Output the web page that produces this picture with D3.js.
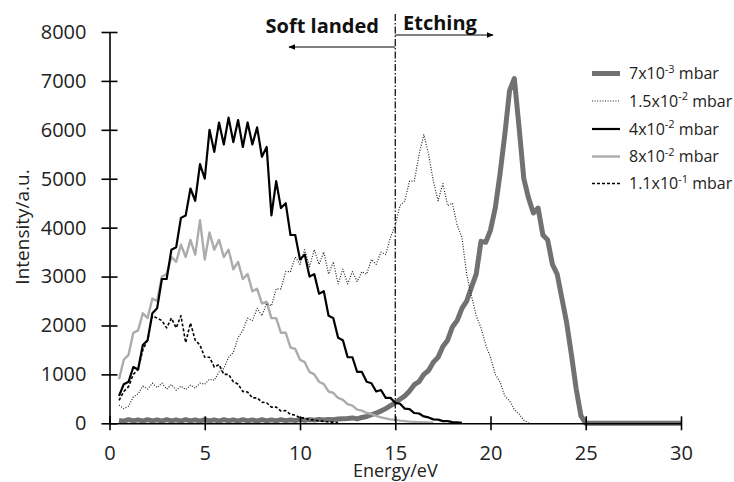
<!DOCTYPE html>
<html>
<head>
<meta charset="utf-8">
<script src="https://cdn.jsdelivr.net/npm/d3@7"></script>
<style>
  body { margin: 0; background: #fff; }
  svg { display: block; font-family: "Open Sans", "DejaVu Sans", sans-serif; }
</style>
</head>
<body>
<svg id="chart" width="734" height="482"></svg>
<script>
// Energy grid (eV), 0.25 steps from 0.5 to 25, plus 30
const energy = [
  0.5, 0.75,
  1.0, 1.25, 1.5, 1.75, 2.0, 2.25, 2.5, 2.75, 3.0, 3.25, 3.5, 3.75,
  4.0, 4.25, 4.5, 4.75, 5.0, 5.25, 5.5, 5.75, 6.0, 6.25, 6.5, 6.75,
  7.0, 7.25, 7.5, 7.75, 8.0, 8.25, 8.5, 8.75, 9.0, 9.25, 9.5, 9.75,
  10.0, 10.25, 10.5, 10.75, 11.0, 11.25, 11.5, 11.75, 12.0, 12.25, 12.5, 12.75,
  13.0, 13.25, 13.5, 13.75, 14.0, 14.25, 14.5, 14.75, 15.0, 15.25, 15.5, 15.75,
  16.0, 16.25, 16.5, 16.75, 17.0, 17.25, 17.5, 17.75, 18.0, 18.25, 18.5, 18.75,
  19.0, 19.25, 19.5, 19.75, 20.0, 20.25, 20.5, 20.75, 21.0, 21.25, 21.5, 21.75,
  22.0, 22.25, 22.5, 22.75, 23.0, 23.25, 23.5, 23.75, 24.0, 24.25, 24.5, 24.75,
  25.0, 30.0
];

// 7x10^-3 mbar
const p7e3 = [
  60, 45,
  75, 50, 70, 45, 75, 50, 70, 45, 75, 50, 70, 45,
  75, 50, 70, 45, 75, 50, 70, 45, 75, 50, 70, 45,
  75, 50, 70, 45, 75, 50, 70, 50, 75, 55, 70, 55,
  80, 60, 75, 65, 80, 70, 80, 75, 90, 95, 100, 110,
  90, 120, 140, 175, 210, 250, 300, 360, 420, 490, 560, 660,
  790, 850, 1000, 1080, 1250, 1350, 1570, 1700, 1970, 2100, 2350, 2500,
  2780, 3050, 3720, 3700, 3950, 4400, 5100, 5900, 6800, 7050, 6050, 5000,
  4600, 4300, 4400, 3850, 3750, 3250, 3050, 2550, 2050, 1400, 700, 150,
  0, 0
];

// 1.5x10^-2 mbar
const p15e2 = [
  370, 300,
  350, 540, 600, 760, 700, 820, 730, 820, 700, 790, 680, 760,
  690, 780, 720, 820, 800, 900, 880, 1050, 1120, 1350, 1450, 1750,
  1900, 2150, 2100, 2350, 2200, 2450, 2400, 2750, 2750, 3100, 3100, 3400,
  3250, 3550, 3200, 3550, 3250, 3500, 3050, 3300, 2850, 3150, 2850, 3100,
  2900, 3100, 3050, 3350, 3250, 3500, 3450, 3800, 4050, 4450, 4550, 4950,
  4950, 5500, 5900, 5500, 4950, 4550, 4900, 4450, 4500, 4050, 3800, 3050,
  2600, 2200, 1950, 1600, 1350, 1000, 850, 560, 460, 280, 190, 60,
  10, null, null, null, null, null, null, null, null, null, null, null,
  null, null
];

// 4x10^-2 mbar
const p4e2 = [
  560, 800,
  850, 1150, 1100, 1600, 1700, 2250, 2350, 2950, 2950, 3550, 3600, 4200,
  4250, 4800, 4550, 5300, 5000, 6000, 5550, 6150, 5700, 6250, 5750, 6200,
  5650, 6150, 5700, 6050, 5450, 5650, 4250, 4950, 4400, 4500, 3850, 3850,
  3350, 3450, 3000, 3050, 2650, 2700, 2200, 2150, 1750, 1700, 1350, 1350,
  1050, 1050, 850, 820, 650, 680, 520, 520, 420, 400, 300, 290,
  210, 200, 140, 120, 80, 75, 45, 45, 25, 20, 10, null,
  null, null, null, null, null, null, null, null, null, null, null, null,
  null, null, null, null, null, null, null, null, null, null, null, null,
  null, null
];

// 8x10^-2 mbar
const p8e2 = [
  900, 1300,
  1400, 1850, 1900, 2250, 2150, 2550, 2500, 3000, 3050, 3400, 3300, 3650,
  3400, 3750, 3450, 4150, 3350, 3900, 3550, 3750, 3400, 3550, 3150, 3300,
  2950, 3050, 2700, 2750, 2450, 2480, 2150, 2150, 1850, 1850, 1550, 1520,
  1300, 1250, 1050, 1000, 850, 800, 650, 620, 520, 480, 390, 360,
  280, 260, 210, 190, 150, 120, 100, 80, 70, 55, 45, 35,
  30, 25, 20, 15, 10, null, null, null, null, null, null, null,
  null, null, null, null, null, null, null, null, null, null, null, null,
  null, null, null, null, null, null, null, null, null, null, null, null,
  null, null
];

// 1.1x10^-1 mbar
const p11e1 = [
  470, 650,
  750, 1000, 1100, 1500, 1700, 2200, 2150, 2100, 1950, 2150, 1950, 2200,
  1650, 2050, 1700, 1600, 1350, 1350, 1150, 1200, 1000, 1000, 850, 800,
  650, 640, 520, 520, 430, 420, 330, 330, 250, 260, 180, 170,
  110, 110, 70, 70, 45, 45, 25, 25, 15, null, null, null,
  null, null, null, null, null, null, null, null, null, null, null, null,
  null, null, null, null, null, null, null, null, null, null, null, null,
  null, null, null, null, null, null, null, null, null, null, null, null,
  null, null, null, null, null, null, null, null, null, null, null, null,
  null, null
];

const xTicks = [0, 5, 10, 15, 20, 25, 30];
const yTicks = [0, 1000, 2000, 3000, 4000, 5000, 6000, 7000, 8000];
const legendBase = ["7x10", "1.5x10", "4x10", "8x10", "1.1x10"];
const legendExp = ["-3", "-2", "-2", "-2", "-1"];
const dividerEnergy = 15;

const series = [
  { values: p7e3,  color: "#717171", width: 5,   dash: null },
  { values: p15e2, color: "#222",    width: 1.2, dash: "1,1.6" },
  { values: p4e2,  color: "#000",    width: 2.2, dash: null },
  { values: p8e2,  color: "#acacac", width: 2.4, dash: null },
  { values: p11e1, color: "#000",    width: 1.6, dash: "3,2" }
];

const svg = d3.select("#chart");
const x = d3.scaleLinear().domain([0, 30]).range([109.5, 681]);
const y = d3.scaleLinear().domain([0, 8000]).range([423.3, 32]);

// series (drawn first, axes on top)
const drawOrder = [0, 3, 4, 1, 2];
drawOrder.forEach(i => {
  const s = series[i];
  const pts = energy.map((e, k) => [e, s.values[k]]);
  const line = d3.line()
    .defined(d => d[1] != null)
    .x(d => x(d[0]))
    .y(d => y(d[1]));
  svg.append("path")
    .attr("d", line(pts))
    .attr("fill", "none")
    .attr("stroke", s.color)
    .attr("stroke-width", s.width)
    .attr("stroke-linejoin", "round")
    .attr("stroke-dasharray", s.dash);
});

// Y axis
const yAxis = svg.append("g")
  .attr("transform", `translate(${x(0)},0)`)
  .call(d3.axisLeft(y).tickValues(yTicks).tickSizeInner(8).tickSizeOuter(0).tickPadding(15).tickFormat(d3.format("d")));
yAxis.select(".domain").attr("stroke", "#000").attr("stroke-width", 1.6);
yAxis.selectAll(".tick line").attr("x1", 8).attr("stroke-width", 1.6);
yAxis.selectAll(".tick text").attr("font-size", 20).attr("fill", "#222")
  .attr("font-family", "'Open Sans', sans-serif");

// X axis
const xAxis = svg.append("g")
  .attr("transform", `translate(0,${y(0)})`)
  .call(d3.axisBottom(x).tickValues(xTicks).tickSizeInner(7).tickSizeOuter(0).tickPadding(10));
xAxis.select(".domain").attr("stroke", "#000").attr("stroke-width", 1.6);
xAxis.selectAll(".tick line").attr("y1", -7).attr("stroke-width", 1.6);
xAxis.selectAll(".tick text").attr("font-size", 20).attr("fill", "#222")
  .attr("font-family", "'Open Sans', sans-serif")
  .attr("y", 37).attr("dy", 0);

// axis titles
svg.append("text")
  .attr("transform", `translate(29,227) rotate(-90)`)
  .attr("text-anchor", "middle")
  .attr("font-size", 19).attr("fill", "#222")
  .text("Intensity/a.u.");
svg.append("text")
  .attr("x", x(15)).attr("y", 477)
  .attr("text-anchor", "middle")
  .attr("font-size", 18).attr("fill", "#222")
  .text("Energy/eV");

// divider line
svg.append("line")
  .attr("x1", x(dividerEnergy)).attr("x2", x(dividerEnergy))
  .attr("y1", 14).attr("y2", y(0))
  .attr("stroke", "#000").attr("stroke-width", 1.2)
  .attr("stroke-dasharray", "7,2,1.5,2");

// arrows
const defs = svg.append("defs");
defs.append("marker").attr("id", "ah").attr("viewBox", "0 0 10 10")
  .attr("refX", 9).attr("refY", 5).attr("markerWidth", 7).attr("markerHeight", 7)
  .attr("markerUnits", "userSpaceOnUse").attr("orient", "auto")
  .append("path").attr("d", "M0,1 L10,5 L0,9 Z").attr("fill", "#000");
svg.append("line")
  .attr("x1", x(dividerEnergy)).attr("x2", 493).attr("y1", 35).attr("y2", 35)
  .attr("stroke", "#000").attr("stroke-width", 1).attr("marker-end", "url(#ah)");
svg.append("line")
  .attr("x1", x(dividerEnergy)).attr("x2", 289).attr("y1", 47).attr("y2", 47)
  .attr("stroke", "#000").attr("stroke-width", 1).attr("marker-end", "url(#ah)");

svg.append("text").attr("x", 379).attr("y", 33).attr("text-anchor", "end")
  .attr("font-size", 20).attr("font-weight", "bold").attr("fill", "#111")
  .text("Soft landed");
svg.append("text").attr("x", 403).attr("y", 30)
  .attr("font-size", 20).attr("font-weight", "bold").attr("fill", "#111")
  .text("Etching");

// legend
const legY = [73.5, 101, 129, 156.5, 183.5];
series.forEach((s, i) => {
  svg.append("line")
    .attr("x1", 592).attr("x2", 620).attr("y1", legY[i]).attr("y2", legY[i])
    .attr("stroke", s.color).attr("stroke-width", s.width)
    .attr("stroke-dasharray", s.dash);
  const t = svg.append("text").attr("x", 629).attr("y", legY[i] + 5.5)
    .attr("font-size", 16).attr("fill", "#222");
  t.append("tspan").text(legendBase[i]);
  t.append("tspan").attr("font-size", 11).attr("dy", -6.5).text(legendExp[i]);
  t.append("tspan").attr("dy", 6.5).text(" mbar");
});
</script>
</body>
</html>
